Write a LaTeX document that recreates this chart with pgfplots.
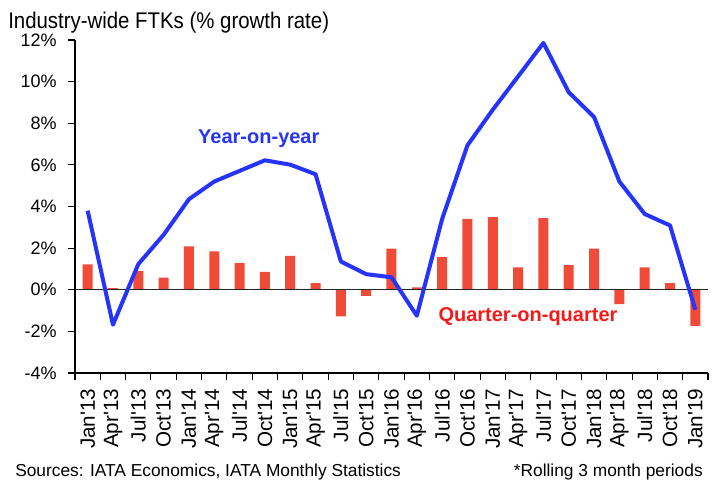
\documentclass[border=0pt]{standalone}
\usepackage{fontspec}
\setmainfont{Liberation Sans}
\newfontfamily\titlefont[FakeStretch=0.9]{Liberation Sans}
\usepackage{pgfplots}
\pgfplotsset{compat=1.18}
\definecolor{barred}{RGB}{240,74,56}
\definecolor{lineblue}{RGB}{38,52,250}
\definecolor{qred}{RGB}{245,25,25}

\begin{document}
\begin{tikzpicture}
\useasboundingbox (-56.25pt,-84pt) rectangle (482.25pt,279.75pt);
\begin{axis}[
 at={(0,0)}, anchor=south west,
 scale only axis, width=474.75pt, height=249.75pt,
 xmin=-0.5, xmax=24.5, ymin=-4, ymax=12,
 axis x line*=bottom, axis y line*=left,
 axis line style={-, black, line width=0.9pt},
 xtick={0,...,24},
 xticklabels={Jan\textquotesingle13,Apr\textquotesingle13,Jul\textquotesingle13,Oct\textquotesingle13,
  Jan\textquotesingle14,Apr\textquotesingle14,Jul\textquotesingle14,Oct\textquotesingle14,
  Jan\textquotesingle15,Apr\textquotesingle15,Jul\textquotesingle15,Oct\textquotesingle15,
  Jan\textquotesingle16,Apr\textquotesingle16,Jul\textquotesingle16,Oct\textquotesingle16,
  Jan\textquotesingle17,Apr\textquotesingle17,Jul\textquotesingle17,Oct\textquotesingle17,
  Jan\textquotesingle18,Apr\textquotesingle18,Jul\textquotesingle18,Oct\textquotesingle18,
  Jan\textquotesingle19},
 major x tick style={draw=none},
 minor xtick={-0.5,0.5,...,24.5},
 x tick label style={rotate=90, anchor=east, font=\fontsize{15.5}{15.5}\selectfont},
 xticklabel shift=3pt,
 ytick={-4,-2,...,12},
 yticklabels={-4\%,-2\%,0\%,2\%,4\%,6\%,8\%,10\%,12\%},
 y tick label style={font=\fontsize{13.5}{13.5}\selectfont},
 yticklabel shift=5pt,
 tick align=outside,
 major tick length=5.25pt, minor tick length=5.25pt,
 tick style={black, line width=0.8pt},
 /pgf/number format/assume math mode=true,
 clip=false,
]
\addplot[ybar, bar width=7.5pt, fill=barred, draw=none] coordinates {
(0,1.22) (1,0.08) (2,0.90) (3,0.58) (4,2.08) (5,1.84) (6,1.28) (7,0.86)
(8,1.63) (9,0.32) (10,-1.28) (11,-0.29) (12,1.98) (13,0.11) (14,1.57) (15,3.40)
(16,3.49) (17,1.07) (18,3.44) (19,1.18) (20,1.98) (21,-0.69) (22,1.07) (23,0.32) (24,-1.73)
};
\draw[black!85, line width=1pt] (axis cs:-0.5,0) -- (axis cs:24.5,0);
\addplot[lineblue, line width=3pt, line join=round, mark=none] coordinates {
(0,3.80) (1,-1.68) (2,1.23) (3,2.64) (4,4.35) (5,5.20) (6,5.71) (7,6.22)
(8,6.01) (9,5.55) (10,1.36) (11,0.75) (12,0.60) (13,-1.25) (14,3.40) (15,6.94)
(16,8.65) (17,10.25) (18,11.86) (19,9.49) (20,8.30) (21,5.20) (22,3.64) (23,3.09) (24,-0.96)
};
\node[font=\bfseries\fontsize{15}{15}\selectfont, text=lineblue] at (axis cs:6.76,7.26) {Year-on-year};
\node[font=\bfseries\fontsize{15}{15}\selectfont, text=qred] at (axis cs:17.39,-1.3) {Quarter-on-quarter};
\end{axis}
\node[anchor=base west, inner sep=0pt, font=\titlefont\fontsize{17}{17}\selectfont] at (-50.25pt,258pt) {Industry-wide FTKs (\% growth rate)};
\node[anchor=base west, inner sep=0pt, font=\fontsize{13}{13}\selectfont] at (-45pt,-77.5pt) {Sources: IATA Economics, IATA Monthly Statistics};
\node[anchor=base east, inner sep=0pt, font=\fontsize{13}{13}\selectfont] at (471pt,-77.5pt) {*Rolling 3 month periods};
\end{tikzpicture}
\end{document}
